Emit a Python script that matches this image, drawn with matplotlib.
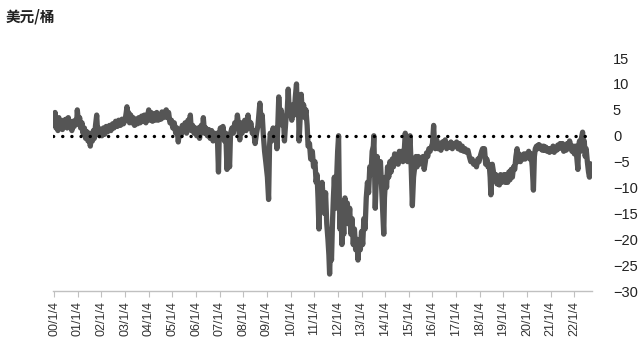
import matplotlib
matplotlib.use("Agg")
import matplotlib.pyplot as plt

# WTI - Brent spread (USD/bbl), decimal years; one line per calendar year
years = [
    2000.00, 2000.04, 2000.08, 2000.12, 2000.16, 2000.20, 2000.25, 2000.30, 2000.35, 2000.40, 2000.45, 2000.50, 2000.55, 2000.60, 2000.65, 2000.70, 2000.75, 2000.80, 2000.85, 2000.90, 2000.95, 2000.98,
    2001.03, 2001.08, 2001.12, 2001.18, 2001.22, 2001.28, 2001.33, 2001.38, 2001.43, 2001.48, 2001.53, 2001.58, 2001.62, 2001.66, 2001.70, 2001.75, 2001.80, 2001.84, 2001.88, 2001.92, 2001.96,
    2002.02, 2002.08, 2002.14, 2002.20, 2002.27, 2002.34, 2002.40, 2002.47, 2002.53, 2002.60, 2002.67, 2002.73, 2002.80, 2002.87, 2002.93,
    2003.00, 2003.05, 2003.08, 2003.11, 2003.15, 2003.19, 2003.24, 2003.29, 2003.34, 2003.40, 2003.46, 2003.52, 2003.58, 2003.64, 2003.70, 2003.76, 2003.82, 2003.88, 2003.94,
    2004.00, 2004.05, 2004.10, 2004.16, 2004.22, 2004.28, 2004.34, 2004.40, 2004.46, 2004.52, 2004.56, 2004.62, 2004.68, 2004.74, 2004.78, 2004.84, 2004.90, 2004.96,
    2005.02, 2005.08, 2005.14, 2005.20, 2005.25, 2005.30, 2005.36, 2005.42, 2005.48, 2005.54, 2005.60, 2005.66, 2005.72, 2005.76, 2005.80, 2005.86, 2005.92, 2005.97,
    2006.03, 2006.09, 2006.15, 2006.22, 2006.28, 2006.31, 2006.36, 2006.42, 2006.48, 2006.54, 2006.60, 2006.66, 2006.72, 2006.78, 2006.84, 2006.90, 2006.95, 2006.98,
    2007.03, 2007.08, 2007.14, 2007.20, 2007.26, 2007.31, 2007.36, 2007.42, 2007.46, 2007.52, 2007.58, 2007.64, 2007.70, 2007.75, 2007.80, 2007.85, 2007.90, 2007.95,
    2008.00, 2008.06, 2008.12, 2008.20, 2008.26, 2008.32, 2008.38, 2008.44, 2008.50, 2008.56, 2008.62, 2008.70, 2008.75, 2008.80, 2008.85, 2008.90, 2008.95,
    2009.02, 2009.07, 2009.11, 2009.14, 2009.20, 2009.26, 2009.32, 2009.38, 2009.42, 2009.46, 2009.50, 2009.55, 2009.60, 2009.65, 2009.70, 2009.74, 2009.80, 2009.86, 2009.90, 2009.95,
    2010.00, 2010.05, 2010.10, 2010.15, 2010.20, 2010.25, 2010.29, 2010.33, 2010.36, 2010.40, 2010.45, 2010.50, 2010.55, 2010.60, 2010.65, 2010.70, 2010.74, 2010.80, 2010.85, 2010.92, 2010.97,
    2011.03, 2011.08, 2011.12, 2011.16, 2011.20, 2011.24, 2011.28, 2011.33, 2011.38, 2011.43, 2011.48, 2011.53, 2011.58, 2011.62, 2011.65, 2011.69, 2011.73, 2011.77, 2011.81, 2011.85, 2011.90, 2011.95, 2011.99,
    2012.03, 2012.06, 2012.09, 2012.13, 2012.17, 2012.21, 2012.25, 2012.30, 2012.35, 2012.40, 2012.45, 2012.50, 2012.55, 2012.60, 2012.65, 2012.70, 2012.75, 2012.80, 2012.85, 2012.90, 2012.95,
    2013.00, 2013.05, 2013.10, 2013.15, 2013.20, 2013.25, 2013.30, 2013.35, 2013.40, 2013.45, 2013.50, 2013.52, 2013.55, 2013.58, 2013.62, 2013.66, 2013.70, 2013.75, 2013.80, 2013.85, 2013.90, 2013.94, 2013.97,
    2014.02, 2014.06, 2014.10, 2014.15, 2014.20, 2014.25, 2014.30, 2014.35, 2014.40, 2014.45, 2014.50, 2014.55, 2014.60, 2014.65, 2014.70, 2014.75, 2014.80, 2014.85, 2014.90, 2014.95,
    2015.00, 2015.05, 2015.10, 2015.15, 2015.20, 2015.25, 2015.30, 2015.35, 2015.40, 2015.45, 2015.50, 2015.55, 2015.60, 2015.65, 2015.70, 2015.75, 2015.80, 2015.85, 2015.90, 2015.95,
    2016.00, 2016.05, 2016.08, 2016.12, 2016.18, 2016.24, 2016.30, 2016.36, 2016.42, 2016.48, 2016.54, 2016.60, 2016.66, 2016.72, 2016.78, 2016.84, 2016.90, 2016.96,
    2017.02, 2017.08, 2017.14, 2017.20, 2017.26, 2017.32, 2017.38, 2017.44, 2017.50, 2017.56, 2017.62, 2017.68, 2017.74, 2017.80, 2017.86, 2017.92, 2017.97,
    2018.02, 2018.08, 2018.12, 2018.16, 2018.20, 2018.25, 2018.30, 2018.35, 2018.40, 2018.44, 2018.47, 2018.50, 2018.53, 2018.58, 2018.63, 2018.68, 2018.73, 2018.78, 2018.83, 2018.88, 2018.93, 2018.98,
    2019.03, 2019.08, 2019.13, 2019.18, 2019.23, 2019.28, 2019.33, 2019.38, 2019.43, 2019.48, 2019.53, 2019.58, 2019.62, 2019.67, 2019.72, 2019.77, 2019.82, 2019.87, 2019.92, 2019.97,
    2020.02, 2020.07, 2020.12, 2020.17, 2020.22, 2020.27, 2020.31, 2020.35, 2020.40, 2020.45, 2020.50, 2020.55, 2020.60, 2020.65, 2020.70, 2020.75, 2020.80, 2020.85, 2020.90, 2020.95,
    2021.00, 2021.05, 2021.10, 2021.15, 2021.20, 2021.25, 2021.30, 2021.35, 2021.40, 2021.45, 2021.50, 2021.55, 2021.60, 2021.65, 2021.70, 2021.75, 2021.80, 2021.85, 2021.90, 2021.95,
    2022.00, 2022.05, 2022.10, 2022.15, 2022.18, 2022.22, 2022.26, 2022.30, 2022.35, 2022.38, 2022.42, 2022.46, 2022.50, 2022.55, 2022.60, 2022.64, 2022.68, 2022.72,
]
spread = [
    2.0, 4.5, 1.5, 3.0, 1.0, 3.5, 2.0, 2.5, 1.2, 3.0, 2.0, 3.2, 1.5, 3.5, 2.0, 2.5, 1.0, 2.8, 1.8, 3.0, 2.2, 5.0,
    2.5, 3.5, 1.5, 2.5, 0.5, 1.5, -0.5, 0.8, -1.0, 0.5, -2.0, 0.2, -1.0, 1.0, -0.5, 2.0, 4.0, 0.5, 1.5, 0.0, 1.2,
    0.0, 1.5, 0.3, 1.8, 0.8, 2.0, 1.0, 2.3, 1.5, 2.8, 1.8, 3.0, 2.0, 3.2, 2.3,
    3.0, 4.5, 5.6, 3.0, 4.5, 2.5, 4.0, 2.5, 3.5, 2.0, 3.2, 2.3, 3.5, 2.5, 3.8, 2.8, 4.0, 2.5, 3.5,
    5.0, 3.0, 4.5, 2.8, 4.2, 3.0, 4.5, 3.0, 4.0, 3.2, 4.6, 3.5, 4.5, 5.0, 3.5, 4.5, 2.5, 3.0,
    1.5, 2.5, 0.5, 1.5, -1.2, 1.0, 0.0, 2.0, 1.0, 2.5, 0.5, 3.0, 1.5, 4.0, 1.0, 2.0, 0.5, 1.5,
    0.0, 1.5, -0.5, 2.0, 1.0, 3.5, 0.5, 1.5, 0.0, 1.2, -0.5, 1.0, -1.0, 0.5, -1.0, 0.5, -7.0, -0.5,
    1.5, 0.0, 1.8, -1.0, 0.5, -6.5, -2.0, -6.0, 0.5, 1.5, 0.5, 2.5, 1.5, 4.0, 2.0, -0.8, 2.5, 0.5,
    1.5, 3.0, 1.0, 4.0, 1.5, 2.5, 0.5, 1.0, -1.5, 0.5, 2.0, 6.3, 3.0, 4.0, 0.0, -3.0, -5.0,
    -8.0, -12.3, -2.0, 0.5, -1.0, 1.5, 0.0, 1.5, -2.5, 2.0, 7.5, 3.0, 5.0, 2.0, 3.5, -1.0, 3.0, 5.0, 9.0, 4.0,
    5.5, 3.0, 6.0, 4.0, 7.5, 10.0, 4.0, 7.0, -1.0, 3.0, 8.0, 4.0, 6.0, 3.5, 5.0, 2.0, -2.0, -1.5, -4.5, -3.0, -6.0,
    -5.0, -9.0, -7.5, -12.0, -18.0, -10.0, -13.0, -9.0, -12.0, -15.0, -11.0, -17.0, -20.0, -23.0, -26.7, -21.0, -24.0, -17.0, -12.0, -8.0, -14.0, -8.0, -3.0,
    0.0, -12.0, -18.0, -14.0, -21.0, -16.0, -19.0, -12.0, -16.0, -13.0, -17.0, -14.0, -19.0, -16.0, -21.0, -18.0, -22.0, -20.0, -24.0, -20.5, -22.0,
    -18.5, -21.0, -16.0, -18.0, -12.0, -9.0, -11.0, -6.0, -7.5, -3.0, -2.0, 0.0, -6.0, -14.0, -9.0, -4.0, -6.0, -8.0, -5.0, -10.0, -15.0, -19.0, -12.0,
    -8.0, -10.0, -6.0, -8.0, -5.0, -7.0, -4.5, -6.0, -3.5, -5.0, -4.0, -5.5, -3.0, -4.5, -3.0, -5.0, -3.5, 0.5, -2.0, -5.0,
    -3.0, 0.0, -6.0, -13.5, -8.0, -6.0, -4.0, -6.0, -4.0, -5.5, -4.5, -5.0, -4.0, -6.5, -5.0, -3.3, -4.0, -2.5, -3.0, -2.2,
    -1.5, 2.0, -1.0, -2.5, -0.8, -2.5, -1.5, -2.8, -1.2, -2.0, -0.8, -2.5, -1.5, -2.2, -1.2, -2.5, -1.5, -2.0,
    -1.2, -2.5, -1.5, -2.8, -2.0, -3.0, -2.5, -3.2, -2.8, -4.0, -5.0, -4.5, -5.5, -5.0, -6.0, -4.5, -5.0,
    -4.0, -3.0, -2.5, -3.5, -2.5, -5.5, -4.5, -6.0, -5.5, -8.0, -11.4, -8.0, -5.5, -7.0, -8.5, -7.5, -9.3, -8.0, -9.5, -7.5, -9.0, -8.0,
    -7.5, -9.0, -7.5, -9.0, -7.0, -8.5, -6.5, -8.0, -6.0, -6.5, -4.0, -2.5, -5.0, -3.5, -5.0, -4.0, -4.5, -3.5, -4.5, -3.5,
    -4.0, -3.0, -4.5, -3.5, -6.0, -10.5, -4.0, -2.5, -2.0, -2.5, -1.7, -2.5, -2.0, -2.8, -2.0, -2.8, -2.2, -3.0, -2.5, -3.2,
    -2.5, -3.0, -2.0, -3.2, -2.3, -2.8, -1.8, -2.5, -1.5, -2.2, -1.5, -3.0, -2.0, -2.8, -1.5, -2.5, -1.0, -2.0, -3.0, -2.0,
    -3.5, -2.0, -4.0, -6.5, -2.0, -1.0, -3.0, -0.5, 0.7, -2.5, -1.0, -4.0, -2.5, -5.0, -7.0, -8.0, -6.0, -5.5,
]
tick_years = list(range(2000, 2023))
tick_labels = [f"{y % 100:02d}/1/4" for y in tick_years]
y_ticks = [15, 10, 5, 0, -5, -10, -15, -20, -25, -30]

fig = plt.figure(figsize=(6.38, 3.63), dpi=100)
ax = fig.add_axes([0.083, 0.198, 0.845, 0.642])

ax.plot(years, spread, color="#555555", linewidth=3.8, solid_joinstyle="round", zorder=2)
ax.axhline(0, color="black", linewidth=2.4, linestyle=(0, (0.05, 2.7)),
           dash_capstyle="round", zorder=3)

ax.set_xlim(1999.95, 2022.75)
ax.set_ylim(-30, 15)

for side in ["top", "left", "right"]:
    ax.spines[side].set_visible(False)
ax.spines["bottom"].set_color("#c0c0c0")
ax.spines["bottom"].set_linewidth(1.0)

ax.set_xticks(tick_years)
ax.set_xticklabels(tick_labels, rotation=90, fontsize=9, family="Liberation Sans", color="#333333")
ax.tick_params(axis="x", direction="out", length=4, color="#c0c0c0", pad=3)

ax.yaxis.tick_right()
ax.set_yticks(y_ticks)
ax.set_yticklabels([f"{v}".replace("-", "\u2212") for v in y_ticks],
                   fontsize=10.5, family="Liberation Sans", color="#222222")
ax.tick_params(axis="y", length=0, pad=15)
for lbl in ax.get_yticklabels():
    lbl.set_horizontalalignment("left")

fig.text(0.008, 0.955, "美元/桶", fontsize=10.5, fontweight="bold",
         family=["Noto Sans CJK SC", "DejaVu Sans"], va="center", ha="left", color="#222222")

fig.savefig("out.png", dpi=100)
